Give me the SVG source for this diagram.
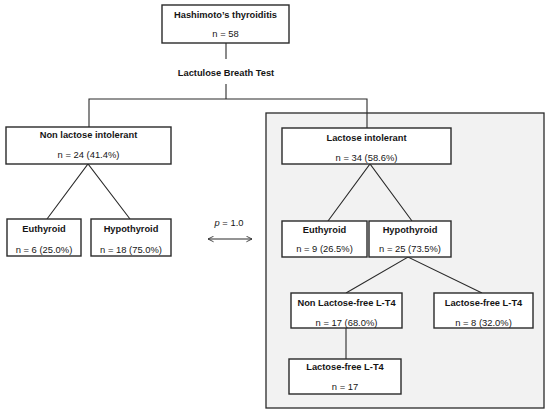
<svg xmlns="http://www.w3.org/2000/svg" width="550" height="414" viewBox="0 0 550 414">
<style>
.box{fill:#fff;stroke:#2a2a2a;stroke-width:1.4}
.panel{fill:#f2f2f2;stroke:#2a2a2a;stroke-width:1.3}
.ln{stroke:#2a2a2a;stroke-width:1.1;fill:none}
text{font-family:"Liberation Sans",Arial,sans-serif;fill:#151515;text-anchor:middle}
.t{font-weight:bold;font-size:9.3px}
.n{font-size:9.4px}
</style>
<defs>
<marker id="ah" viewBox="0 0 10 10" refX="9" refY="5" markerWidth="7" markerHeight="7" orient="auto-start-reverse" markerUnits="userSpaceOnUse">
<path d="M1,1 L9,5 L1,9" fill="none" stroke="#2a2a2a" stroke-width="1.2"/>
</marker>
</defs>
<rect class="panel" x="266" y="113" width="278" height="295"/>
<g id="connectors">
<line class="ln" x1="226" y1="43" x2="226" y2="59"/>
<line class="ln" x1="226" y1="84" x2="226" y2="99"/>
<polyline class="ln" points="89,127 89,99 367,99 367,128"/>
<polyline class="ln" points="47,219 88,164 130,219"/>
<polyline class="ln" points="328,221 370,164 412,221"/>
<polyline class="ln" points="346,293 408,257 482,293"/>
<line class="ln" x1="346" y1="328" x2="346" y2="359"/>
<line class="ln" x1="208" y1="239" x2="252" y2="239" marker-start="url(#ah)" marker-end="url(#ah)"/>
</g>
<g id="hashimoto">
<rect class="box" x="162" y="5" width="127" height="38"/>
<text class="t" x="225.5" y="18">Hashimoto’s thyroiditis</text>
<text class="n" x="225.5" y="37">n = 58</text>
</g>
<g id="lbt">
<text class="t" x="226" y="76">Lactulose Breath Test</text>
</g>
<g id="nonlactose">
<rect class="box" x="6" y="127" width="165" height="37"/>
<text class="t" x="88.5" y="138">Non lactose intolerant</text>
<text class="n" x="88.5" y="158">n = 24 (41.4%)</text>
</g>
<g id="euthyroid1">
<rect class="box" x="7" y="219" width="74" height="37"/>
<text class="t" x="44" y="232">Euthyroid</text>
<text class="n" x="44" y="253">n = 6 (25.0%)</text>
</g>
<g id="hypothyroid1">
<rect class="box" x="91" y="219" width="80" height="37"/>
<text class="t" x="131" y="232">Hypothyroid</text>
<text class="n" x="131" y="253">n = 18 (75.0%)</text>
</g>
<g id="pvalue">
<text class="n" x="229" y="226"><tspan font-style="italic">p</tspan> = 1.0</text>
</g>
<g id="lactose">
<rect class="box" x="282" y="128" width="169" height="36"/>
<text class="t" x="366.5" y="141">Lactose intolerant</text>
<text class="n" x="366.5" y="161">n = 34 (58.6%)</text>
</g>
<g id="euthyroid2">
<rect class="box" x="282" y="221" width="85" height="36"/>
<text class="t" x="324.5" y="233">Euthyroid</text>
<text class="n" x="324.5" y="252">n = 9 (26.5%)</text>
</g>
<g id="hypothyroid2">
<rect class="box" x="369" y="221" width="82" height="36"/>
<text class="t" x="410" y="233">Hypothyroid</text>
<text class="n" x="410" y="252">n = 25 (73.5%)</text>
</g>
<g id="nonlactosefree">
<rect class="box" x="291" y="293" width="111" height="35"/>
<text class="t" x="346.5" y="306">Non Lactose-free L-T4</text>
<text class="n" x="346.5" y="326">n = 17 (68.0%)</text>
</g>
<g id="lactosefree">
<rect class="box" x="434" y="293" width="99" height="35"/>
<text class="t" x="483.5" y="306">Lactose-free L-T4</text>
<text class="n" x="483.5" y="326">n = 8 (32.0%)</text>
</g>
<g id="lactosefree2">
<rect class="box" x="289" y="359" width="112" height="35"/>
<text class="t" x="345" y="370">Lactose-free L-T4</text>
<text class="n" x="345" y="390">n = 17</text>
</g>
</svg>
